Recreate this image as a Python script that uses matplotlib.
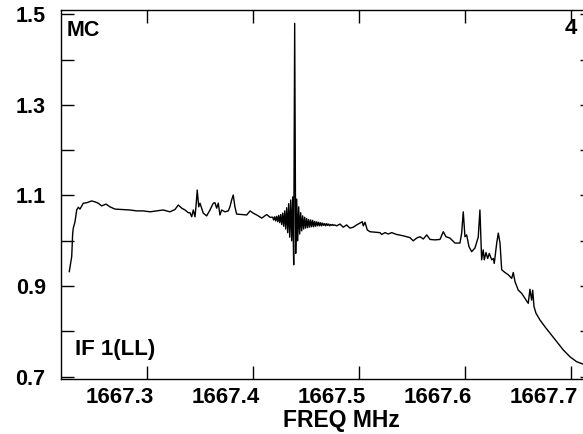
import matplotlib
matplotlib.use("Agg")
import matplotlib.pyplot as plt
import matplotlib.transforms as mtrans
import numpy as np

plt.rcParams['font.family'] = ['Liberation Sans', 'DejaVu Sans']

# broadband part of the spectrum (MHz, amplitude)
freq_left = [1667.2271, 1667.2294, 1667.2303, 1667.2309, 1667.2325, 1667.2341, 1667.2356,
             1667.2372, 1667.2403, 1667.2435, 1667.2482, 1667.2513, 1667.2544, 1667.2576,
             1667.2617, 1667.2654, 1667.2701, 1667.2780, 1667.2843, 1667.2906, 1667.2968,
             1667.3031, 1667.3094, 1667.3156, 1667.3219, 1667.3266, 1667.3298, 1667.3330,
             1667.3361, 1667.3392, 1667.3408, 1667.3424, 1667.3439, 1667.3455, 1667.3464,
             1667.3476, 1667.3490, 1667.3502, 1667.3518, 1667.3533, 1667.3565, 1667.3596,
             1667.3627, 1667.3643, 1667.3659, 1667.3674, 1667.3690, 1667.3706, 1667.3737,
             1667.3768, 1667.3784, 1667.3800, 1667.3815, 1667.3831, 1667.3847, 1667.3895,
             1667.3942, 1667.3973, 1667.4004, 1667.4051, 1667.4083, 1667.4130, 1667.4161]
amp_left = [0.932, 0.965, 1.016, 1.028, 1.042, 1.068, 1.074,
            1.070, 1.083, 1.084, 1.088, 1.086, 1.083, 1.077,
            1.081, 1.075, 1.070, 1.069, 1.068, 1.066, 1.066,
            1.064, 1.066, 1.068, 1.064, 1.069, 1.079, 1.072,
            1.068, 1.062, 1.062, 1.053, 1.068, 1.053, 1.075,
            1.112, 1.075, 1.083, 1.072, 1.061, 1.055, 1.068,
            1.083, 1.084, 1.072, 1.083, 1.057, 1.068, 1.064,
            1.066, 1.075, 1.090, 1.101, 1.075, 1.059, 1.058,
            1.057, 1.066, 1.061, 1.055, 1.050, 1.058, 1.052]

# channels around the strong line (uniform channel spacing)
ring_start = 1667.41864
chan_width = 0.000942
amp_ring = [1.052, 1.046, 1.053, 1.044, 1.054, 1.042, 1.056, 1.040, 1.058, 1.036,
            1.061, 1.032, 1.066, 1.026, 1.073, 1.018, 1.082, 1.008, 1.090, 1.000,
            1.097, 0.947, 1.480, 0.972, 1.092, 1.000, 1.075, 1.015, 1.062, 1.022,
            1.055, 1.026, 1.052, 1.028, 1.049, 1.029, 1.047, 1.030, 1.046, 1.031,
            1.045, 1.031, 1.043, 1.032, 1.042, 1.033, 1.041, 1.033, 1.040, 1.033,
            1.039, 1.034, 1.038, 1.033, 1.038, 1.034, 1.037, 1.033, 1.036, 1.034,
            1.036, 1.034, 1.035]

freq_right = [1667.4789, 1667.4820, 1667.4851, 1667.4883, 1667.4914, 1667.4945, 1667.4977,
              1667.5008, 1667.5030, 1667.5040, 1667.5056, 1667.5077, 1667.5103, 1667.5150,
              1667.5197, 1667.5213, 1667.5244, 1667.5275, 1667.5307, 1667.5354, 1667.5416,
              1667.5479, 1667.5510, 1667.5542, 1667.5573, 1667.5605, 1667.5637, 1667.5668,
              1667.5715, 1667.5762, 1667.5793, 1667.5818, 1667.5856, 1667.5903, 1667.5950,
              1667.5966, 1667.5981, 1667.5997, 1667.6013, 1667.6035, 1667.6060, 1667.6091,
              1667.6122, 1667.6138, 1667.6154, 1667.6169, 1667.6179, 1667.6195, 1667.6211,
              1667.6226, 1667.6249, 1667.6264, 1667.6273, 1667.6296, 1667.6311, 1667.6327,
              1667.6343, 1667.6374, 1667.6405, 1667.6437, 1667.6452, 1667.6468, 1667.6499,
              1667.6531, 1667.6562, 1667.6593, 1667.6609, 1667.6625, 1667.6635, 1667.6647,
              1667.6666, 1667.6704, 1667.6751, 1667.6798, 1667.6861, 1667.6923, 1667.6986,
              1667.7049, 1667.7108, 1667.7174]
amp_right = [1.033, 1.037, 1.030, 1.035, 1.028, 1.030, 1.035,
             1.039, 1.042, 1.033, 1.041, 1.024, 1.020, 1.019,
             1.018, 1.014, 1.018, 1.015, 1.018, 1.014, 1.011,
             1.007, 1.000, 1.006, 1.009, 1.004, 1.013, 1.003,
             1.002, 1.003, 1.020, 1.009, 1.006, 0.995, 0.995,
             1.017, 1.064, 1.009, 1.013, 0.987, 0.976, 0.984,
             1.008, 1.068, 0.958, 0.980, 0.958, 0.974, 0.961,
             0.972, 0.958, 0.961, 0.950, 0.995, 1.017, 0.995,
             0.936, 0.930, 0.925, 0.917, 0.930, 0.910, 0.891,
             0.884, 0.873, 0.862, 0.893, 0.869, 0.891, 0.855,
             0.840, 0.825, 0.810, 0.796, 0.777, 0.759, 0.744,
             0.733, 0.728, 0.722]

xticks = [1667.3, 1667.4, 1667.5, 1667.6, 1667.7]
yticks = [0.7, 0.8, 0.9, 1.0, 1.1, 1.2, 1.3, 1.4, 1.5]
ylabels = ["0.7", "", "0.9", "", "1.1", "", "1.3", "", "1.5"]

freq_ring = ring_start + chan_width * np.arange(len(amp_ring))
freq = np.concatenate([freq_left, freq_ring, freq_right])
amp = np.concatenate([amp_left, amp_ring, amp_right])

fig = plt.figure(figsize=(5.83, 4.34), dpi=100)
ax = fig.add_axes([0.1046, 0.1267, 0.9126, 0.8503])
ax.plot(freq, amp, color="black", linewidth=1.0)

ax.set_xlim(1667.2193, 1667.7203)
ax.set_ylim(0.6949, 1.5095)
ax.set_xticks(xticks)
ax.set_xticklabels(["%.1f" % t for t in xticks], fontsize=16, fontweight="bold")
ax.set_yticks(yticks)
ax.set_yticklabels(ylabels, fontsize=15.5, fontweight="bold")
ax.tick_params(direction="in", length=9.5, width=1, top=True, right=True, color="black")
ax.tick_params(axis="x", pad=6)
ax.tick_params(axis="y", pad=11)
for lab in ax.get_xticklabels():
    lab.set_horizontalalignment("right")
    lab.set_transform(lab.get_transform() + mtrans.ScaledTranslation(7 / 100, 0, fig.dpi_scale_trans))
for sp in ax.spines.values():
    sp.set_linewidth(1)

fig.text(341 / 583, 1 - 421 / 434, "FREQ MHz", fontsize=16.5, fontweight="bold", va="center", ha="center")
fig.text(67 / 583, 1 - 31 / 434, "MC", fontsize=15.5, fontweight="bold", va="center", ha="left")
fig.text(577 / 583, 1 - 29 / 434, "4", fontsize=16, fontweight="bold", va="center", ha="right")
fig.text(75 / 583, 1 - 350 / 434, "IF 1(LL)", fontsize=16, fontweight="bold", va="center", ha="left")

fig.savefig("out.png", dpi=100)
